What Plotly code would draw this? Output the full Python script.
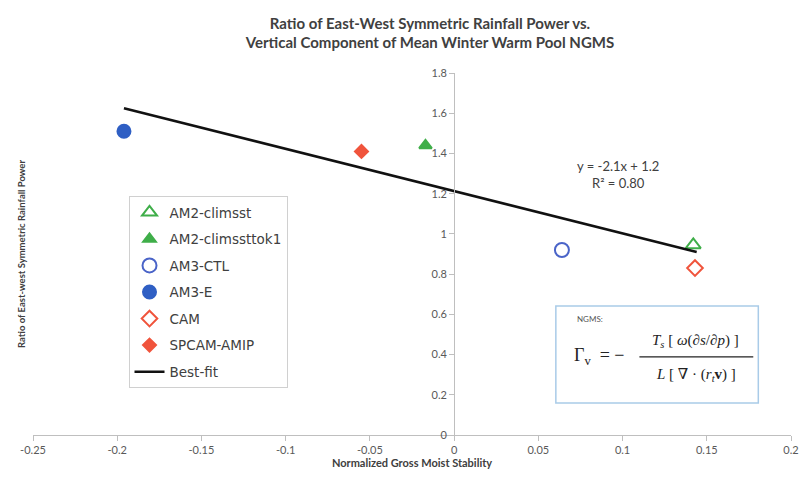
import plotly.graph_objects as go

# ---- data ----
series_names = ["AM2-climsst", "AM2-climssttok1", "AM3-CTL", "AM3-E", "CAM", "SPCAM-AMIP"]
ngms_x = [0.142, -0.017, 0.064, -0.196, 0.143, -0.055]
ratio_y = [0.945, 1.44, 0.92, 1.51, 0.83, 1.41]
bestfit_x = [-0.196, 0.144]
bestfit_y = [1.625, 0.91]
x_tickvals = [-0.25, -0.2, -0.15, -0.1, -0.05, 0, 0.05, 0.1, 0.15, 0.2]
x_ticktext = ["-0.25", "-0.2", "-0.15", "-0.1", "-0.05", "0", "0.05", "0.1", "0.15", "0.2"]
y_tickvals = [0, 0.2, 0.4, 0.6, 0.8, 1.0, 1.2, 1.4, 1.6, 1.8]
y_ticktext = ["0", "0.2", "0.4", "0.6", "0.8", "1", "1.2", "1.4", "1.6", "1.8"]

# ---- styles ----
styles = [
    dict(symbol="triangle-up-open", color="#3fae49"),
    dict(symbol="triangle-up", color="#3fae49"),
    dict(symbol="circle-open", color="#4a64c8"),
    dict(symbol="circle", color="#2f5fc4"),
    dict(symbol="diamond-open", color="#f0543c"),
    dict(symbol="diamond", color="#f0543c"),
]
sizes = [13, 11, 14, 13, 12, 10]

FONT = "Lato, 'Open Sans', Arial, sans-serif"
TXT = "#404040"

fig = go.Figure()
for i, name in enumerate(series_names):
    st = styles[i]
    fig.add_trace(go.Scatter(
        x=[ngms_x[i]], y=[ratio_y[i]], mode="markers", name=name,
        legendgroup=name,
        marker=dict(symbol=st["symbol"], color=st["color"], size=sizes[i],
                    line=dict(color=st["color"], width=2)),
    ))
fig.add_trace(go.Scatter(
    x=bestfit_x, y=bestfit_y, mode="lines", name="Best-fit", legendgroup="Best-fit",
    line=dict(color="#111111", width=2.5),
))

fig.update_layout(
    width=803, height=474,
    margin=dict(l=23, r=16, t=65, b=47),
    paper_bgcolor="white", plot_bgcolor="white",
    font=dict(family=FONT, color=TXT, size=11),
    title=dict(
        text="Ratio of East-West Symmetric Rainfall Power vs.<br>Vertical Component of Mean Winter Warm Pool NGMS",
        x=0.5255, xanchor="center", y=0.956, yanchor="top",
        font=dict(family=FONT, size=15, color=TXT, weight="bold"),
    ),
    showlegend=True,
    legend=dict(
        x=0.126, y=0.66, xanchor="left", yanchor="top",
        bgcolor="white", bordercolor="#d0d0d0", borderwidth=1,
        font=dict(family="'DejaVu Sans', sans-serif", size=13.5, color=TXT),
        tracegroupgap=6,
    ),
    xaxis=dict(
        range=[-0.25, 0.2], tickvals=x_tickvals, ticktext=x_ticktext,
        showgrid=False, zeroline=False, showline=True, linecolor="#bfbfbf",
        ticks="outside", ticklen=5, tickcolor="#bfbfbf",
        tickfont=dict(size=11, color="#595959"),
        title=dict(text="<b>Normalized Gross Moist Stability</b>", standoff=4,
                   font=dict(size=11, color=TXT)),
    ),
    yaxis=dict(
        range=[0, 1.8], tickvals=y_tickvals, ticktext=y_ticktext,
        anchor="free", position=0.25 / 0.45,
        showgrid=False, zeroline=False, showline=True, linecolor="#bfbfbf",
        ticks="outside", ticklen=5, tickcolor="#bfbfbf",
        tickfont=dict(size=11, color="#595959"),
    ),
)

# y-axis title on left edge
fig.add_annotation(
    xref="paper", yref="paper", x=0, y=0.5, xshift=-12, xanchor="center", yanchor="middle",
    text="<b>Ratio of East-west Symmetric Rainfall Power</b>", textangle=-90, showarrow=False,
    font=dict(family=FONT, size=9.5, color=TXT),
)

# trendline equation
fig.add_annotation(
    xref="x", yref="y", x=0.097, y=1.295, showarrow=False,
    text="y = -2.1x + 1.2<br>R² = 0.80",
    font=dict(family=FONT, size=13, color=TXT), align="center",
)

# NGMS formula box
fig.add_shape(type="rect", xref="x", yref="y", x0=0.0604, x1=0.1806, y0=0.159, y1=0.641,
              line=dict(color="#a9cbe8", width=1.5), fillcolor="white", layer="above")
fig.add_annotation(xref="x", yref="y", x=0.072, y=0.577, xanchor="left", showarrow=False,
                   text="NGMS:", font=dict(family=FONT, size=8, color="#555555"))
SERIF = "'Liberation Serif', 'DejaVu Serif', serif"
fig.add_annotation(xref="x", yref="y", x=0.070, y=0.39, xanchor="left", showarrow=False,
                   text="Γ<sub>v</sub>  = −", font=dict(family=SERIF, size=18, color="#222222"))
fig.add_annotation(xref="x", yref="y", x=0.1435, y=0.465, showarrow=False,
                   text="<i>T<sub>s</sub></i> [ <i>ω</i>(∂<i>s</i>/∂<i>p</i>) ]",
                   font=dict(family=SERIF, size=15, color="#222222"))
fig.add_shape(type="line", xref="x", yref="y", x0=0.110, x1=0.1776, y0=0.388, y1=0.388,
              line=dict(color="#222222", width=1.2), layer="above")
fig.add_annotation(xref="x", yref="y", x=0.1435, y=0.30, showarrow=False,
                   text="<i>L</i> [ ∇ · (<i>r<sub>t</sub></i><b>v</b>) ]",
                   font=dict(family=SERIF, size=15, color="#222222"))

fig.write_html("out.html")
